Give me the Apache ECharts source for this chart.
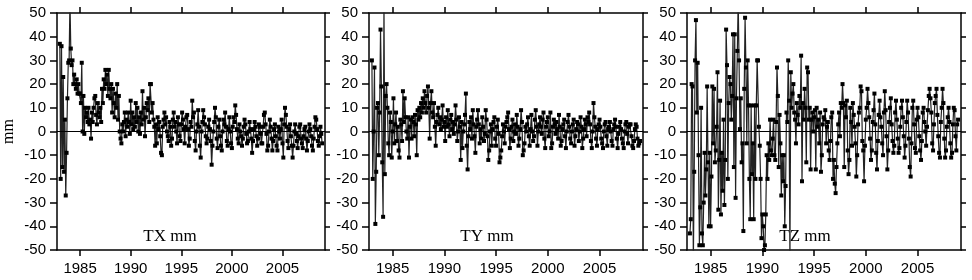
<!DOCTYPE html>
<html>
<head>
<meta charset="utf-8">
<script src="https://cdn.jsdelivr.net/npm/echarts@6/dist/echarts.min.js"></script>
<style>
  html, body { margin: 0; padding: 0; background: #fff; }
  #chart { width: 972px; height: 280px; }
</style>
</head>
<body>
<div id="chart"></div>
<script>
// Series start (monthly samples from 1983.0)
const startYear = 1983;
const yearTicks = [1985, 1990, 1995, 2000, 2005];
const mmTicks = [-50, -40, -30, -20, -10, 0, 10, 20, 30, 40, 50];
const panelNames = ['TX mm', 'TY mm', 'TZ mm'];

// TX, mm (one row per year, 12 months)
const txValues = [
    37, -20, 36, -15, 23, -17, 5, -27, -9, 14, 29, 30,     // 1983
    55, 35, 28, 30, 20, 24, 20, 18, 22, 16, 20, 16,        // 1984
    16, 12, 29, 0, 15, -1, 10, 6, 8, 4, 10, 3,             // 1985
    5, -3, 8, 4, 10, 14, 15, 7, 3, 12, 8, 6,               // 1986
    10, 4, 18, 12, 22, 18, 26, 20, 24, 15, 26, 18,         // 1987
    14, 20, 8, 18, 12, 6, 16, 10, 20, 5, 15, 0,            // 1988
    -3, -5, 3, 0, 4, 8, -2, 5, 2, 8, 4, -1,                // 1989
    13, 3, 8, 1, 6, 2, 12, 4, 10, 0, 6, -1,                // 1990
    8, 3, 17, 5, 10, -2, 6, 12, 9, 14, 4, 20,              // 1991
    20, 8, 12, 5, 2, -6, 3, -5, 6, 1, 4, -2,               // 1992
    -9, -10, 2, 5, 8, 3, 6, 0, -2, -4, 4, 2,               // 1993
    -6, -3, 5, 8, 2, 4, 0, -5, 6, 3, -2, -4,               // 1994
    3, 8, 5, 1, -5, 2, 6, 7, 1, -6, -3, 4,                 // 1995
    2, 13, 6, 8, -4, -8, 0, 3, 9, 2, -6, -11,              // 1996
    0, 4, 9, 6, 3, -2, -5, -3, 2, 5, 1, -4,                // 1997
    -14, -6, 0, 4, 10, 6, -3, -7, 2, 5, -2, -6,            // 1998
    -8, 0, 5, 3, 8, 2, -4, -6, 1, 6, 0, -5,                // 1999
    -7, 2, 6, 4, 11, 7, 1, -3, -5, 3, 0, -2,               // 2000
    -6, -3, 2, 5, 3, -1, -5, -4, 0, 4, 1, -3,              // 2001
    -9, -4, 1, 4, 2, -2, -6, -3, 3, 2, -1, -5,             // 2002
    -5, 2, 7, 8, 3, -1, -8, -6, 0, 5, 2, -3,               // 2003
    -8, -4, 1, 3, -2, -6, -8, 2, 0, -3, 1, 5,              // 2004
    -5, -11, 3, 10, 7, 2, -4, -7, 1, 3, -2, -6,            // 2005
    -11, -6, 0, 3, -1, -4, -7, -2, 2, 3, -3, -5,           // 2006
    -7, -2, 1, 2, -3, -8, -4, 0, 3, 1, -2, -6,             // 2007
    -8, -3, 2, 6, 5, 1, -4, -6, -2, 2, -1, -5              // 2008
];

// TY, mm
const tyValues = [
    30, -20, 0, 27, -39, -17, 10, 12, -10, 8, 43, 19,      // 1983
    -13, -36, 55, -18, 15, 20, 10, -5, -10, 8, 4, -11,     // 1984
    0, 14, -5, 3, 8, -4, 2, -8, -11, 5, 3, -4,             // 1985
    17, 4, 14, 6, 0, -3, 6, -11, 2, 5, -3, 6,              // 1986
    4, -2, 7, 3, -10, 9, 5, 10, 6, 12, 8, 14,              // 1987
    10, 17, 12, 8, 15, 19, 10, -3, 12, 17, 8, 6,           // 1988
    12, 2, -6, 4, 7, 10, 3, 6, 1, 5, 11, 2,                // 1989
    4, -4, 6, 2, 9, 3, -2, 5, 7, 1, 4, -1,                 // 1990
    3, 11, 5, -4, 0, 6, 2, -12, 4, -7, 0, 3,               // 1991
    7, 16, -6, -16, -2, 4, 1, 6, -3, 9, 3, -2,             // 1992
    -9, 2, 5, 9, 3, -5, 1, -3, 6, 2, -4, -1,               // 1993
    9, 5, -2, -12, -8, 0, 3, -6, 1, 4, 6, -3,              // 1994
    -6, 2, 5, -1, -13, -11, -8, -2, 3, 0, -5, 2,           // 1995
    4, 6, 8, 1, -7, -3, 2, 5, -4, 0, 3, -1,                // 1996
    7, 2, -6, -3, 1, 9, 4, -10, -8, -5, 2, 0,              // 1997
    3, 6, -2, -6, 1, 7, 0, -4, -2, 5, 9, 2,                // 1998
    -6, 0, 3, 6, 2, -1, 5, 8, -3, -7, 2, 4,                // 1999
    6, -2, 0, 8, -7, -5, 2, 5, 3, -1, 4, 1,                // 2000
    -3, 7, 2, -6, -4, 1, 3, 5, -2, -7, 0, 4,               // 2001
    7, 2, -3, -5, 0, 3, 5, -6, -2, 1, 4, 3,                // 2002
    -4, 0, 6, 2, -7, -3, 1, 5, 3, -2, 6, 4,                // 2003
    8, 3, -4, -7, 0, 12, 6, 2, -3, -6, 1, 3,               // 2004
    5, 2, -3, -5, -7, 0, 3, 4, -2, -6, 1, 2,               // 2005
    4, 0, -4, -6, 1, 3, 5, 2, -3, -7, -1, 2,               // 2006
    4, 1, -3, -5, -7, 0, 3, 4, -1, -5, 2, 3,               // 2007
    3, -2, -6, -7, -4, 1, 3, 2, -3, -6, -5, -4             // 2008
];

// TZ, mm
const tzValues = [
    -43, -37, 20, 19, -55, -17, 30, 47, 8, 29, -10, -48,   // 1983
    -32, 10, -43, -48, -30, -9, -27, -16, 19, -13, -40, -9, // 1984
    -40, -19, 19, -5, 18, -13, -8, 2, 25, -33, -12, 13,    // 1985
    -35, -9, -25, 5, -31, -12, 43, 28, -20, 12, 23, 20,    // 1986
    5, 15, 41, -15, 41, -28, 14, 34, 55, 30, 1, 14,        // 1987
    -13, -5, -42, 18, 48, 27, -5, 30, 11, -20, -37, 11,    // 1988
    -18, -5, -37, 11, -20, 11, 30, 30, 2, -6, -20, -45,    // 1989
    -35, -40, -50, -48, -35, -10, -20, -5, -12, 5, -8, -10, // 1990
    -3, 5, -10, -12, 4, 27, 15, -15, 7, -5, -27, -10,      // 1991
    -21, -10, -40, -23, 8, 4, 30, 13, -55, 25, 10, 16,     // 1992
    20, 8, 5, -5, 12, 7, 3, 15, 10, 32, -21, 12,           // 1993
    5, 18, 10, -13, 27, 25, 5, 10, -16, 5, 8, 0,           // 1994
    6, 9, -16, 10, 2, 5, -5, 8, -17, -10, 3, 6,            // 1995
    5, 9, -5, 2, 4, -8, -12, -4, 6, 8, -20, -12,           // 1996
    -22, -26, -15, -5, 3, 8, -2, 12, 10, 20, 12, -15,      // 1997
    11, 6, 13, -8, -18, -12, 10, 4, -6, 12, 7, 2,          // 1998
    -5, -19, -10, 3, 8, 10, 19, 17, -4, -8, -21, -6,       // 1999
    5, 10, 18, 12, 6, -3, -12, -8, 4, 9, 16, 3,            // 2000
    -9, -16, -4, 7, 13, 6, 2, -5, -10, 8, 17, 9,           // 2001
    -2, -16, -8, 4, 10, 14, 3, -4, -9, -6, 8, 13,          // 2002
    5, -3, -9, -7, 2, 10, 13, 6, -2, -11, -6, 4,           // 2003
    13, 8, -3, -15, -19, -5, 10, 13, 3, -7, -9, 5,         // 2004
    10, 6, -2, -8, -12, -4, 8, 10, 4, 0, -6, 2,            // 2005
    9, 15, 18, 14, 8, -5, -8, 3, 12, 15, 18, 7,            // 2006
    -2, -9, -11, 4, 10, 18, 12, -3, -11, -8, 2, 6,         // 2007
    10, 4, -5, -11, -9, 3, 10, 9, -2, -8, 3, 5             // 2008
];

const panelValues = [txValues, tyValues, tzValues];

// Panel frames (pixels)
const panelLeft = [52, 369, 687];
const panelRight = [647, 329, 11];
const labelCenter = [170, 487, 805];

const sansFont = '"Liberation Sans", Arial, sans-serif';
const serifFont = '"Liberation Serif", "Times New Roman", serif';

const chart = echarts.init(document.getElementById('chart'));

const grids = [], xAxes = [], yAxes = [], series = [], graphics = [];

panelValues.forEach(function (values, p) {
    grids.push({ left: panelLeft[p], right: panelRight[p], top: 13, bottom: 30 });

    const lineStyle = { color: '#000', width: 1.5 };
    // bottom (labels) + top (ticks only)
    ['bottom', 'top'].forEach(function (pos) {
        xAxes.push({
            type: 'value', gridIndex: p, position: pos,
            min: 1982.72, max: 2009.2,
            axisLine: { show: true, onZero: false, lineStyle: lineStyle },
            axisTick: { show: true, length: 6, lineStyle: lineStyle, customValues: yearTicks },
            axisLabel: {
                show: pos === 'bottom', customValues: yearTicks, margin: 11,
                color: '#000', fontSize: 15, fontFamily: sansFont,
                formatter: function (v) { return String(v); }
            },
            splitLine: { show: false }
        });
    });
    // left (labels) + right (ticks only)
    ['left', 'right'].forEach(function (pos) {
        yAxes.push({
            type: 'value', gridIndex: p, position: pos,
            min: -50, max: 50, interval: 10,
            name: (p === 0 && pos === 'left') ? 'mm' : '',
            nameLocation: 'middle', nameRotate: 90, nameGap: 40,
            nameTextStyle: { color: '#000', fontSize: 16, fontFamily: serifFont },
            axisLine: { show: true, onZero: false, lineStyle: lineStyle },
            axisTick: { show: true, length: pos === 'left' ? 7 : 5, lineStyle: lineStyle },
            axisLabel: {
                show: pos === 'left', margin: 11,
                color: '#000', fontSize: 15, fontFamily: sansFont
            },
            splitLine: { show: false }
        });
    });

    series.push({
        type: 'line',
        xAxisIndex: 2 * p, yAxisIndex: 2 * p,
        data: values.map(function (v, i) { return [startYear + i / 12, v]; }),
        symbol: 'rect', symbolSize: 4,
        itemStyle: { color: '#000' },
        lineStyle: { color: '#222', width: 1.2 },
        clip: true,
        animation: false,
        markLine: {
            silent: true, symbol: 'none', animation: false,
            label: { show: false },
            lineStyle: { color: '#000', width: 1, type: 'solid' },
            data: [{ yAxis: 0 }]
        }
    });

    graphics.push({
        type: 'text', x: labelCenter[p], y: 237,
        style: {
            text: panelNames[p], fill: '#000',
            font: '17px ' + serifFont,
            textAlign: 'center', textVerticalAlign: 'middle'
        }
    });
});

chart.setOption({
    animation: false,
    backgroundColor: '#fff',
    grid: grids,
    xAxis: xAxes,
    yAxis: yAxes,
    series: series,
    graphic: graphics
});
</script>
</body>
</html>
